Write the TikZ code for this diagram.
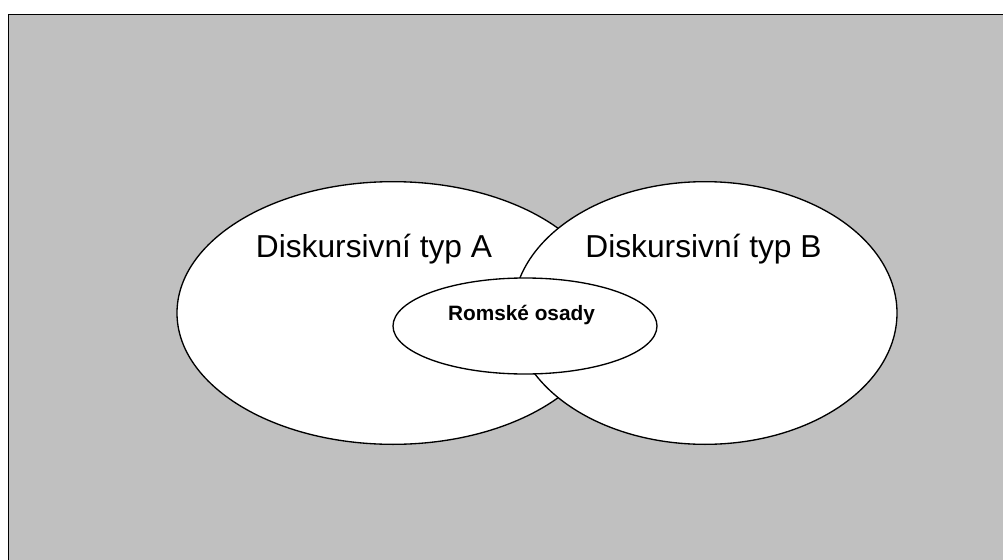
\documentclass[tikz,border=0pt]{standalone}
\usepackage{fontspec}
\setmainfont{Liberation Sans}
\usetikzlibrary{shapes.geometric}
\definecolor{bggray}{HTML}{C0C0C0}

\begin{document}
\begin{tikzpicture}[x=0.75pt,y=-0.75pt,
                    set node/.style={ellipse,draw=black,fill=white,line width=1pt,inner sep=0pt},
                    big label/.style={anchor=base,inner sep=0pt,font=\fontsize{23.8}{28}\selectfont},
                    small label/.style={anchor=base,inner sep=0pt,font=\fontsize{15.6}{18}\selectfont\bfseries}
                   ]
  \useasboundingbox (0,0) rectangle (1003,560);
  \clip (0,0) rectangle (1003,560);
  \draw[fill=bggray,line width=1.4pt] (8.5,14.5) rectangle (1015,575);

  \node[set node,minimum width=324pt,minimum height=197pt] (typA) at (393,313) {};
  \node[set node,minimum width=288pt,minimum height=197pt] (typB) at (705,313) {};
  \node[set node,minimum width=198pt,minimum height=72pt] (osady) at (525,326) {};

  \node[big label] (labelA) at (374,257) {Diskursivní typ A};
  \node[big label] (labelB) at (703.5,257) {Diskursivní typ B};
  \node[small label] (labelO) at (521.5,320) {Romské osady};
\end{tikzpicture}
\end{document}
